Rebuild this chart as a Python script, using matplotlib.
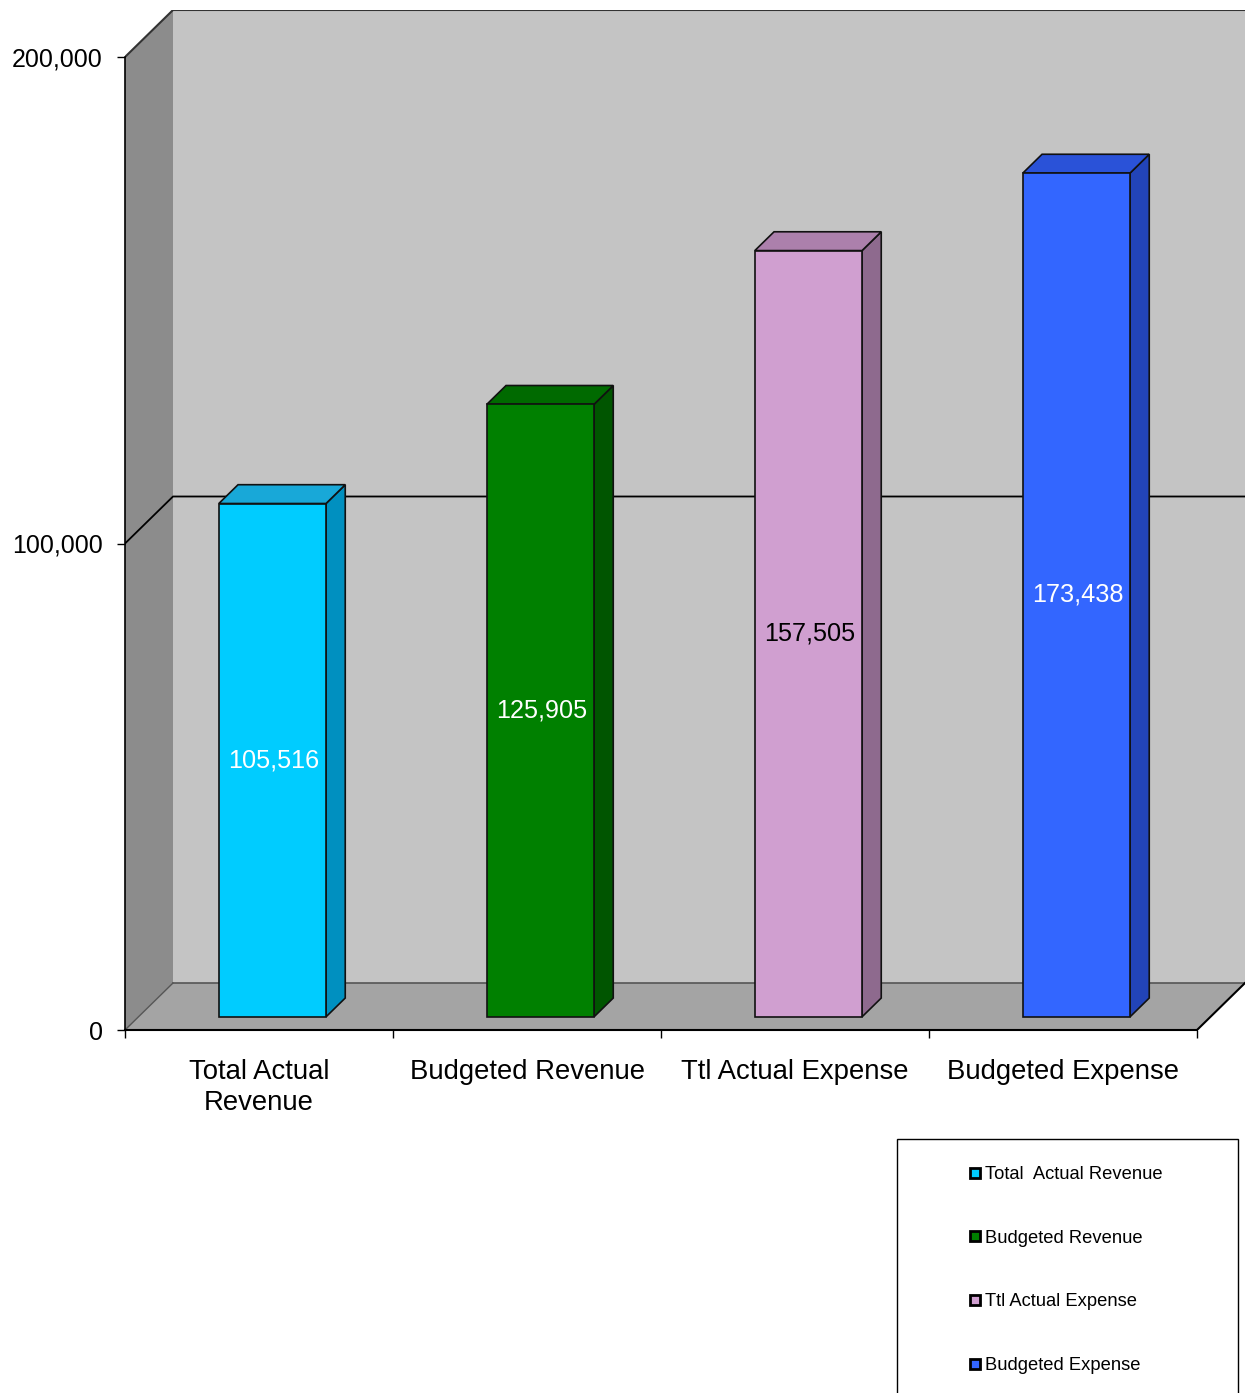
import matplotlib
matplotlib.use("Agg")
import matplotlib.pyplot as plt
from matplotlib.patches import Polygon, Rectangle
from matplotlib.lines import Line2D

plt.rcParams['font.family'] = ['Liberation Sans', 'DejaVu Sans']

# ---- data ----
categories = ["Total Actual\nRevenue", "Budgeted Revenue", "Ttl Actual Expense", "Budgeted Expense"]
legend_labels = ["Total  Actual Revenue", "Budgeted Revenue", "Ttl Actual Expense", "Budgeted Expense"]
values = [105516, 125905, 157505, 173438]
value_labels = ["105,516", "125,905", "157,505", "173,438"]
ytick_values = [0, 100000, 200000]
ytick_labels = ["0", "100,000", "200,000"]

# ---- styles ----
front_colors = ["#00CCFF", "#008000", "#D09FD0", "#3366FF"]
top_colors = ["#18A8D8", "#006A00", "#AC80AC", "#2A52D8"]
side_colors = ["#0090C0", "#005500", "#8E6A8E", "#2244B8"]
label_colors = ["white", "white", "black", "white"]

W, H = 1248, 1393
fig = plt.figure(figsize=(W / 100, H / 100), dpi=100)
fig.patch.set_facecolor("white")

# axes covering front plane + depth
left_px, right_px, top_px, bottom_px = 125, 1245, 10, 1030
ax = fig.add_axes([left_px / W, (H - bottom_px) / H, (right_px - left_px) / W, (bottom_px - top_px) / H])

n = len(values)
ymax = 200000
DX = 48 / 268.0                       # depth offset in category units
DY = 47 / 973.0 * ymax                # depth offset in value units
ax.set_xlim(0, n + DX)
ax.set_ylim(0, ymax + DY)
ax.set_facecolor("none")

# walls
ax.add_patch(Rectangle((DX, DY), n, ymax, facecolor="#C4C4C4", edgecolor="none", zorder=0.5))
ax.add_patch(Polygon([(0, 0), (DX, DY), (DX, ymax + DY), (0, ymax)], closed=True,
                     facecolor="#8C8C8C", edgecolor="none", zorder=0.6))
ax.add_patch(Polygon([(0, 0), (n, 0), (n + DX, DY), (DX, DY)], closed=True,
                     facecolor="#A4A4A4", edgecolor="none", zorder=0.7))
# wall edges
ax.plot([0, DX, n + DX], [ymax, ymax + DY, ymax + DY], color="#333333", lw=1.5, zorder=0.8)
ax.plot([DX, n + DX], [DY, DY], color="#555555", lw=1.2, zorder=0.8)
ax.plot([0, DX], [0, DY], color="#555555", lw=1.0, zorder=0.8)
ax.plot([n, n + DX], [0, DY], color="black", lw=1.5, zorder=0.8)
# gridline at 100,000
for t in ytick_values[1:-1]:
    ax.plot([0, DX, n + DX], [t, t + DY, t + DY], color="black", lw=1.3, zorder=0.9)

# bars
f0, f1 = 0.28, 0.68
bw = 0.4
ddx, ddy = (f1 - f0) * DX, (f1 - f0) * DY
for i, v in enumerate(values):
    x0 = i + 0.5 - bw / 2 + f0 * DX
    x1 = x0 + bw
    y0 = f0 * DY
    y1 = v + f0 * DY
    ec = "#111111"
    ax.add_patch(Polygon([(x1, y0), (x1 + ddx, y0 + ddy), (x1 + ddx, y1 + ddy), (x1, y1)],
                         closed=True, facecolor=side_colors[i], edgecolor=ec, lw=1.2, zorder=2))
    ax.add_patch(Polygon([(x0, y1), (x1, y1), (x1 + ddx, y1 + ddy), (x0 + ddx, y1 + ddy)],
                         closed=True, facecolor=top_colors[i], edgecolor=ec, lw=1.2, zorder=2))
    ax.add_patch(Rectangle((x0, y0), bw, v, facecolor=front_colors[i], edgecolor=ec, lw=1.2, zorder=3))
    ax.text((x0 + x1) / 2 + 0.005, (y0 + y1) / 2, value_labels[i], ha="center", va="center",
            fontsize=18.2, color=label_colors[i], zorder=4)

# axes styling
for s in ["top", "right"]:
    ax.spines[s].set_visible(False)
ax.spines["left"].set_bounds(0, ymax)
ax.spines["bottom"].set_bounds(0, n)
ax.spines["left"].set_linewidth(1.2)
ax.spines["bottom"].set_linewidth(1.5)
ax.set_yticks(ytick_values)
ax.set_yticklabels(ytick_labels, fontsize=18)
ax.tick_params(axis="y", direction="out", length=6, width=1, pad=10)
ax.set_xticks(range(n + 1))
ax.set_xticklabels([])
ax.set_xticks([i + 0.5 for i in range(n)], minor=True)
ax.set_xticklabels(categories, minor=True, fontsize=19.8, linespacing=1.22)
ax.tick_params(axis="x", which="major", direction="out", length=6, width=1)
ax.tick_params(axis="x", which="minor", length=0, pad=21)

# legend box (extends past bottom of figure)
lx0, ly0 = 897, 1139
fig.patches.append(Rectangle((lx0 / W, -0.05), (1238 - lx0) / W, (H - ly0) / H + 0.05,
                             transform=fig.transFigure, facecolor="white", edgecolor="black",
                             lw=1.0, figure=fig))
handles = [Line2D([], [], linestyle="none", marker="s", markersize=7.5, markerfacecolor=c,
                  markeredgecolor="black", markeredgewidth=2.0) for c in front_colors]
leg = fig.legend(handles, legend_labels, loc="upper left",
                 bbox_to_anchor=(968 / W, 1 - 1166 / H), frameon=False, fontsize=13.2,
                 handlelength=0.8, handletextpad=0.15, labelspacing=2.55, borderpad=0,
                 borderaxespad=0)

fig.savefig("out.png", dpi=100, facecolor="white")
